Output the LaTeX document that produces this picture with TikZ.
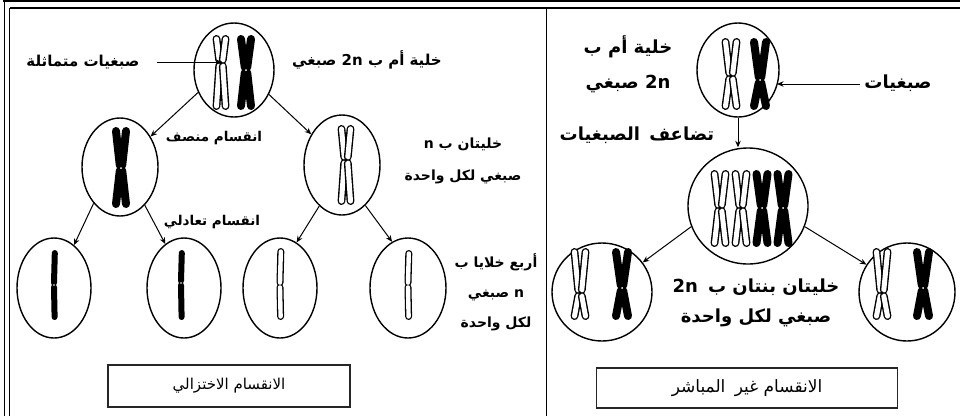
\documentclass[tikz,border=0pt]{standalone}
\usepackage{fontspec}
\usetikzlibrary{arrows.meta,shapes.geometric}
\newfontfamily\arabicfont[Script=Arabic]{DejaVu Sans}
\TeXXeTstate=1
\tikzset{
  cell/.style={ellipse, draw, line width=1.4pt, inner sep=0pt},
  conn/.style={-{Stealth[length=6.5pt,width=5.5pt]}, line width=1pt},
  lab/.style={font=\arabicfont\bfseries\fontsize{14}{30}\selectfont, align=center, inner sep=0pt},
  labsmall/.style={font=\arabicfont\bfseries\fontsize{13.5}{30}\selectfont, align=center, inner sep=0pt},
  labbig/.style={font=\arabicfont\bfseries\fontsize{15}{30}\selectfont, align=center, inner sep=0pt},
  labR/.style={font=\arabicfont\bfseries\fontsize{18}{30}\selectfont, align=center, inner sep=0pt},
  ttl/.style={draw=black!85, line width=1.5pt, inner sep=0pt},
  frm/.style={line width=1.5pt},
  ob/.style={line width=7.8pt, line cap=round},
  ow/.style={white, line width=5.0pt, line cap=round},
  fb/.style={line width=8pt, line cap=round},
  rb/.style={line width=6pt, line cap=round},
  rob/.style={line width=7pt, line cap=round},
  row/.style={white, line width=4.4pt, line cap=round},
}
% outline X chromosome: cx, top, centromere, bottom, end offset
\newcommand{\xcO}[5]{%
  \draw[ob] ({#1-#5},{#2+3.9}) -- ({#1-1.8},{#3-3}) ({#1-1.8},{#3+3}) -- ({#1-#5},{#4-3.9});
  \draw[ow] ({#1-#5},{#2+3.9}) -- ({#1-1.8},{#3-3}) ({#1-1.8},{#3+3}) -- ({#1-#5},{#4-3.9});
  \draw[ob] ({#1+#5},{#2+3.9}) -- ({#1+1.8},{#3-3}) ({#1+1.8},{#3+3}) -- ({#1+#5},{#4-3.9});
  \draw[ow] ({#1+#5},{#2+3.9}) -- ({#1+1.8},{#3-3}) ({#1+1.8},{#3+3}) -- ({#1+#5},{#4-3.9});
  \fill ({#1},{#3}) circle (1.8);
}
% black X chromosome
\newcommand{\xcB}[5]{%
  \draw[fb] ({#1-#5},{#2+4}) -- ({#1-1.2},{#3-2.6}) ({#1-1.2},{#3+2.6}) -- ({#1-#5},{#4-4})
            ({#1+#5},{#2+4}) -- ({#1+1.2},{#3-2.6}) ({#1+1.2},{#3+2.6}) -- ({#1+#5},{#4-4});
  \fill[white] ({#1},{#3}) circle (1);
}
% single chromatids
\newcommand{\rodB}[4]{%
  \draw[rb] ({#1+0.8},{#2+3}) -- ({#1},{#3-2.2}) ({#1},{#3+2.2}) -- ({#1+0.6},{#4-3});
  \fill[white] ({#1},{#3}) circle (0.8);
}
\newcommand{\rodO}[4]{%
  \draw[rob] ({#1+0.8},{#2+3.5}) -- ({#1},{#3-2.4}) ({#1},{#3+2.4}) -- ({#1+0.6},{#4-3.5});
  \draw[row] ({#1+0.8},{#2+3.5}) -- ({#1},{#3-2.4}) ({#1},{#3+2.4}) -- ({#1+0.6},{#4-3.5});
}
\begin{document}
\begin{tikzpicture}[x=1pt,y=-1pt]
\useasboundingbox (0,0) rectangle (960,416);
% frame
\draw[frm] (3,1.2) -- (960,1.2);
\draw[frm] (9.5,8) -- (960,8);
\draw[frm] (4.5,1.2) -- (4.5,416);
\draw[frm] (9.5,8) -- (9.5,416);
\draw[frm] (546.5,8) -- (546.5,416);

% ---------- left panel ----------
\node[cell, minimum width=80pt, minimum height=94pt] (t1) at (234,70) {};
\node[cell, minimum width=76pt, minimum height=98pt] (l1) at (120,167) {};
\node[cell, minimum width=76pt, minimum height=100pt] (r1) at (342,165) {};
\node[cell, minimum width=74pt, minimum height=100pt] (b1) at (54,288) {};
\node[cell, minimum width=74pt, minimum height=100pt] (b2) at (184,288) {};
\node[cell, minimum width=74pt, minimum height=100pt] (b3) at (280,288) {};
\node[cell, minimum width=76pt, minimum height=100pt] (b4) at (408,288) {};

\xcO{221}{35}{63}{110}{4.5}
\xcB{246}{35}{70}{110}{5}
\xcB{121}{127}{168}{208}{5}
\xcO{346}{125}{160}{205}{4.5}
\rodB{54}{250}{285}{320}
\rodB{181}{250}{283}{320}
\rodO{280}{248}{285}{320}
\rodO{408}{250}{285}{320}

\draw[conn] (t1.212) -- (l1.45);
\draw[conn] (t1.-35) -- (r1.135);
\draw[conn] (l1.234) -- (b1.65);
\draw[conn] (l1.303) -- (b2.113);
\draw[conn] (r1.241) -- (b3.70);
\draw[conn] (r1.-60) -- (b4.109);

\node[labbig] (homol) at (83,62) {\beginR صبغيات متماثلة\endR};
\coordinate (homolA) at (157,62);
\coordinate (homolB) at (222,62);
\draw[conn] (homolA) -- (homolB);
\node[labbig] (mother1) at (367,60) {\beginR خلية أم ب \beginL 2n\endL{} صبغي\endR};
\node[labsmall] (meiosis1) at (214,138) {\beginR انقسام منصف\endR};
\node[lab] (two1) at (463,161) {\beginR خليتان ب \beginL n\endL\endR\\[2pt]\beginR صبغي لكل واحدة\endR};
\node[labsmall] (meiosis2) at (212,222) {\beginR انقسام تعادلي\endR};
\node[lab] (four1) at (496,292) {\beginR أربع خلايا ب\endR\\\beginR \beginL n\endL{} صبغي\endR\\\beginR لكل واحدة\endR};
\node[ttl, minimum width=242pt, minimum height=42pt, font=\arabicfont\fontsize{15}{17}\selectfont] (title1) at (229,386) {\beginR الانقسام الاختزالي\endR};

% ---------- right panel ----------
\node[cell, minimum width=82pt, minimum height=94pt] (t2) at (738,70) {};
\node[cell, minimum width=120pt, minimum height=116pt] (m2) at (748,206) {};
\node[cell, minimum width=100pt, minimum height=98pt] (d1) at (602,292) {};
\node[cell, minimum width=96pt, minimum height=98pt] (d2) at (907,292) {};

\xcO{731}{38}{76}{110}{5.5}
\xcB{760}{38}{80}{110}{6}
\xcO{720}{170}{208}{247}{5.5}
\xcO{741}{170}{208}{247}{5.5}
\xcB{762}{170}{208}{247}{5.5}
\xcB{783}{170}{208}{247}{5.5}
\xcO{580}{248}{293}{320}{5.5}
\xcB{622}{248}{288}{320}{6}
\xcO{882}{248}{293}{320}{5.5}
\xcB{923}{248}{288}{320}{6}

\draw[conn] (t2.south) -- (m2.north -| t2.south);
\draw[conn] (m2.200) -- (d1.36);
\draw[conn] (m2.-20) -- (d2.146);

\node[labR] (mother2) at (628,64) {\beginR خلية أم ب\endR\\[5pt]\beginR \beginL 2n\endL{} صبغي\endR};
\node[labR] (chrom2) at (898,83) {\beginR صبغيات\endR};
\coordinate (chromA) at (860,84);
\coordinate (chromB) at (777,84);
\draw[conn] (chromA) -- (chromB);
\node[labR] (dup) at (637,135) {\beginR تضاعف\hspace{3pt} الصبغيات\endR};
\node[labR] (two2) at (756,303) {\beginR خليتان بنتان ب\hspace{4pt} \beginL 2n\endL\endR\\\beginR صبغي لكل واحدة\endR};
\node[ttl, minimum width=301pt, minimum height=40pt, font=\arabicfont\fontsize{17}{19}\selectfont] (title2) at (747,388) {\beginR الانقسام غير\hspace{4pt} المباشر\endR};
\end{tikzpicture}
\end{document}
